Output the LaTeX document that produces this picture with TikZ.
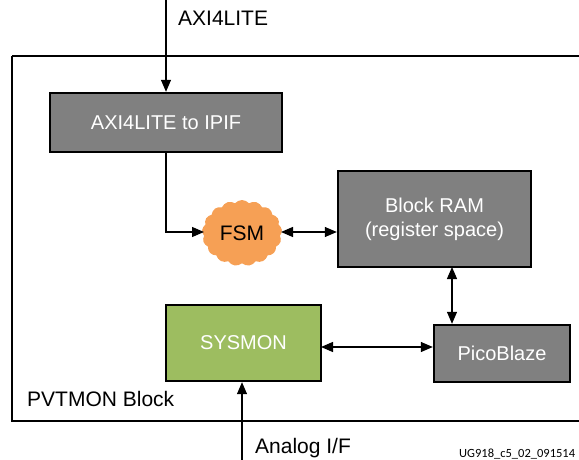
\documentclass[tikz,border=0pt]{standalone}
\usepackage{fontspec}
\setmainfont{Liberation Sans}
\newfontfamily\smallfont{Carlito}
\usetikzlibrary{arrows.meta,shapes.symbols,positioning}
\definecolor{boxgray}{HTML}{808080}
\definecolor{sysgreen}{HTML}{9DBD60}
\definecolor{fsmorange}{HTML}{F6A055}
\tikzset{
  blk/.style={draw=black, line width=2.4pt, fill=boxgray, text=white, inner sep=0pt,
    font=\fontsize{20}{24}\selectfont, align=center},
  conn/.style={line width=1.2pt, -{Triangle[length=12pt,width=10pt]}},
  dconn/.style={line width=1.2pt, {Triangle[length=12pt,width=10pt]}-{Triangle[length=12pt,width=10pt]}},
  lbl/.style={font=\fontsize{21}{25}\selectfont, inner sep=0pt, anchor=west}
}
\begin{document}
\begin{tikzpicture}[x=1pt,y=-1pt]
\useasboundingbox (0,0) rectangle (579,460);
% outer block
\draw[line width=2.6pt] (12,56) -- (610,56) (12,56) -- (12,421) -- (610,421);
% boxes
\node[blk, minimum width=232pt, minimum height=59pt] (axi) at (166,122.5) {AXI4LITE to IPIF};
\node[blk, minimum width=193pt, minimum height=96pt] (bram) at (434.5,219) {Block RAM\\(register space)};
\node[blk, minimum width=136pt, minimum height=57pt] (pico) at (502,353.5) {PicoBlaze};
\node[blk, fill=sysgreen, minimum width=155pt, minimum height=76pt] (sys) at (243.5,343) {SYSMON};
\node[cloud, cloud puffs=17, cloud puff arc=100, aspect=1.2, fill=fsmorange, draw=none,
  minimum width=80pt, minimum height=66pt, inner sep=0pt,
  font=\fontsize{21}{25}\selectfont] (fsm) at (242,233) {FSM};
% labels
\node[lbl] (laxi) at (178,18) {AXI4LITE};
\node[lbl] (lpvt) at (27,399) {PVTMON Block};
\node[lbl] (lana) at (255,448) {Analog I/F};
\node[font=\smallfont\fontsize{12.5}{14}\selectfont, inner sep=0pt, anchor=base west] (lug) at (459,457) {UG918\_c5\_02\_091514};
% connectors
\coordinate (axin) at (166,0);
\draw[conn] (axin) -- (axi.north);
\coordinate (fsmin) at (204,232);
\draw[conn] (axi.south) |- (fsmin);
\coordinate (fsmout) at (281,232);
\draw[dconn] (fsmout) -- (fsmout -| bram.west);
\coordinate (vb) at (452,267);
\draw[dconn] (vb) -- (vb |- pico.north);
\coordinate (so) at (321,347);
\draw[dconn] (so) -- (so -| pico.west);
\coordinate (ana) at (242,470);
\draw[conn] (ana) -- (ana |- sys.south);
\end{tikzpicture}
\end{document}
